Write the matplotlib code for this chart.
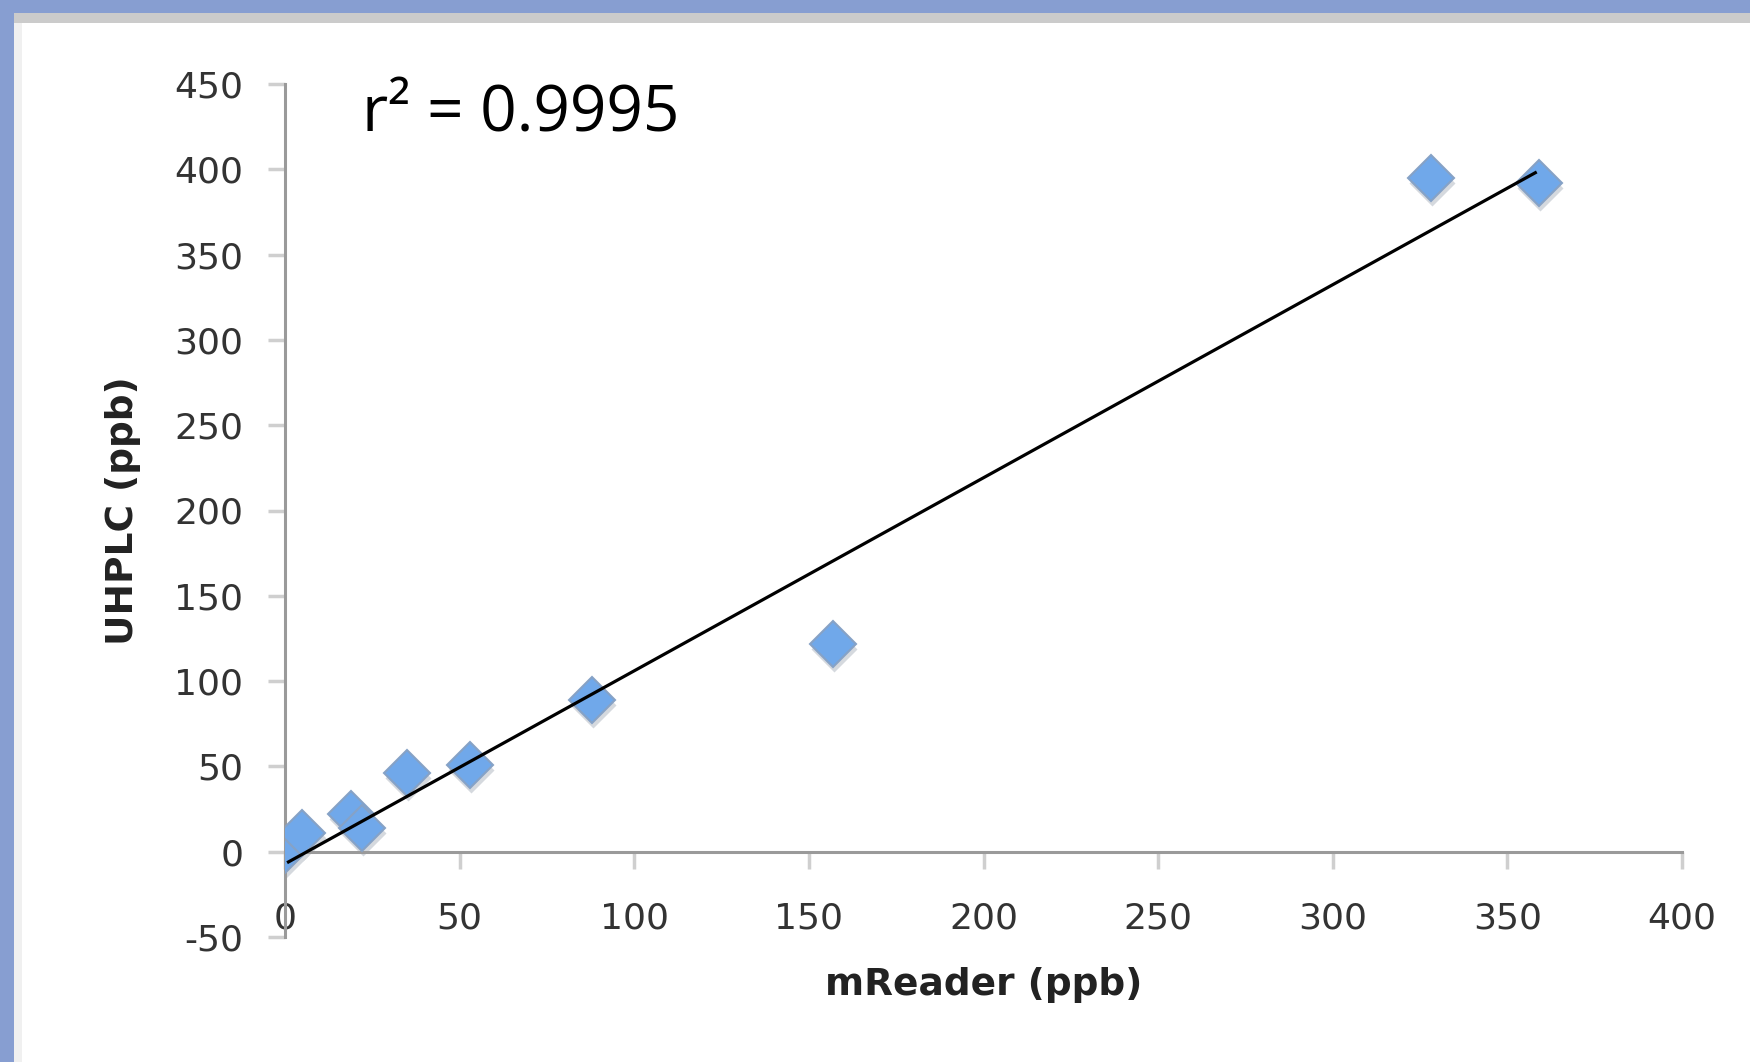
import matplotlib
matplotlib.use("Agg")
import matplotlib.pyplot as plt
from matplotlib.patches import Rectangle
from matplotlib import transforms

plt.rcParams["axes.unicode_minus"] = False

# data
mreader = [0, 5, 19, 22, 35, 53, 88, 157, 328, 359]
uhplc = [1, 11, 22, 14, 46, 51, 89, 122, 395, 392]

# trend line end points as drawn
trend_x = [1, 358]
trend_y = [-6, 398]

x_ticks = [0, 50, 100, 150, 200, 250, 300, 350, 400]
y_ticks = [-50, 0, 50, 100, 150, 200, 250, 300, 350, 400, 450]

W, H = 1750, 1062
fig = plt.figure(figsize=(W / 100, H / 100), dpi=100)
fig.patch.set_facecolor("white")

# frame of the slide: blue strips top and left, grey inner line
fig.patches.append(Rectangle((0, 1 - 13 / H), 1, 13 / H, transform=fig.transFigure,
                             facecolor="#879ed1", edgecolor="none", zorder=0))
fig.patches.append(Rectangle((14 / W, 1 - 23 / H), 1, 10 / H, transform=fig.transFigure,
                             facecolor="#cbcbcb", edgecolor="none", zorder=0))
fig.patches.append(Rectangle((0, 0), 14 / W, 1, transform=fig.transFigure,
                             facecolor="#879ed1", edgecolor="none", zorder=1))
fig.patches.append(Rectangle((14 / W, 0), 8 / W, 1 - 23 / H, transform=fig.transFigure,
                             facecolor="#f0f0f0", edgecolor="none", zorder=0))

ax = fig.add_axes([285 / W, 1 - 937 / H, (1682 - 285) / W, (937 - 84) / H])
ax.set_xlim(0, 400)
ax.set_ylim(-50, 450)

ax.spines["top"].set_visible(False)
ax.spines["right"].set_visible(False)
ax.spines["bottom"].set_position(("data", 0))
ax.spines["bottom"].set_color("#9a9a9a")
ax.spines["left"].set_color("#9a9a9a")
ax.spines["bottom"].set_linewidth(2.2)
ax.spines["left"].set_linewidth(2.2)

ax.set_xticks(x_ticks)
ax.set_yticks(y_ticks)
ax.tick_params(axis="both", direction="out", length=12, width=2.5, color="#cfcfcf",
               labelsize=26, labelcolor="#333333", pad=18)
ax.tick_params(axis="x", pad=24)

# marker shadow then markers
shadow = transforms.offset_copy(ax.transData, fig=fig, x=1, y=-5, units="dots")
ax.plot(mreader, uhplc, linestyle="none", marker="D", markersize=23,
        color="#d5d9de", markeredgecolor="none", transform=shadow, zorder=2)
ax.plot(mreader, uhplc, linestyle="none", marker="D", markersize=23,
        markerfacecolor="#70a8ea", markeredgecolor="#86a2c6", markeredgewidth=1.5, zorder=3)

ax.plot(trend_x, trend_y, color="black", linewidth=2.3, zorder=4)

ax.set_xlabel("mReader (ppb)", fontsize=27, fontweight="bold", color="#222222")
ax.set_ylabel("UHPLC (ppb)", fontsize=27, fontweight="bold", color="#222222", labelpad=24)
ax.xaxis.set_label_coords(0.5, -0.035)

fig.text(362 / W, 1 - 114 / H, "r\u00b2 = 0.9995", fontsize=46, family="Open Sans",
         color="black", va="center", ha="left")

fig.savefig("out.png", dpi=100)
